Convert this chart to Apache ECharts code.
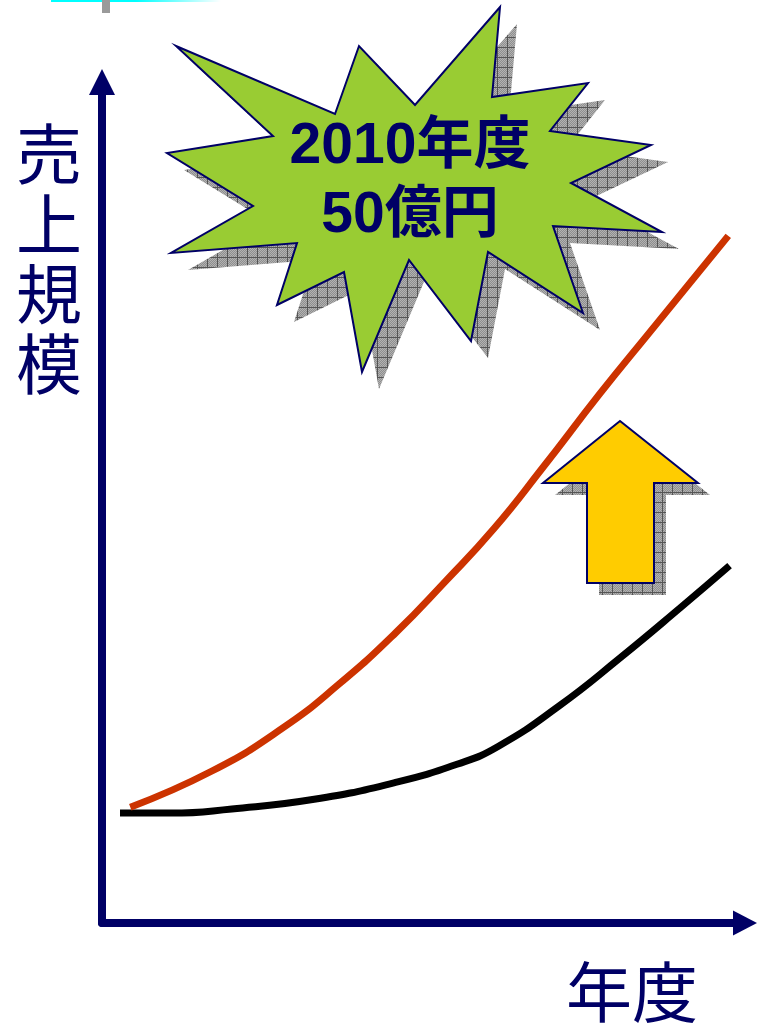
<!DOCTYPE html>
<html>
<head>
<meta charset="utf-8">
<script src="https://cdn.jsdelivr.net/npm/echarts@6/dist/echarts.min.js"></script>
<style>
  html, body { margin: 0; padding: 0; background: #ffffff; }
  #chart { width: 758px; height: 1026px; }
</style>
</head>
<body>
<div id="chart"></div>
<script>
// ---- data -------------------------------------------------------------
// position along the time axis (0 = origin, 100 = end of axis)
const planX      = [4.4, 17.1, 27.9, 36.8, 45.7, 53.3, 60.9, 68.5, 77.4, 85.2, 97.4];
// planned sales, 億円
const planSales  = [8.43, 11.06, 14.12, 17.36, 21.13, 24.81, 28.67, 33.11, 38.5, 43.0, 50.0];
// current trend
const trendX     = [2.8, 10.7, 20.2, 33.0, 45.4, 55.2, 61.6, 71.1, 80.6, 90.1, 97.6];
const trendSales = [8.0, 8.0, 8.3, 9.0, 10.2, 11.55, 12.85, 15.8, 19.3, 23.0, 26.0];

const targetYear  = '2010年度';
const targetSales = '50億円';
const yTitle = '売上規模';
const xTitle = '年度';

// ---- styling ----------------------------------------------------------
const NAVY = '#000066';
const CJK = '"Noto Sans CJK JP", "Noto Sans", sans-serif';

// outline of the burst callout (pixels)
const burstShape = [
  [176, 46], [335, 114], [359, 46], [415, 105], [500, 7], [492, 97],
  [588, 83], [550, 131], [651, 145], [571, 183], [662, 232], [553, 226],
  [583, 313], [488, 252], [471, 341], [409, 260], [362, 372], [344, 272],
  [277, 305], [297, 243], [171, 253], [253, 206], [167, 153], [273, 136]
];
// block arrow pointing up (pixels)
const arrowShape = [
  [620, 421], [698, 483], [654, 483], [654, 583],
  [587, 583], [587, 483], [543, 483]
];

// grey cross-hatched fill used for the drop shadows
function hatchPattern() {
  const c = document.createElement('canvas');
  c.width = 10; c.height = 10;
  const g = c.getContext('2d');
  for (let y = 0; y < 10; y++) {
    for (let x = 0; x < 10; x++) {
      g.fillStyle = ((x + y) % 2) ? '#8e8e8e' : '#b2b2b2';
      g.fillRect(x, y, 1, 1);
    }
  }
  g.fillStyle = '#555555';
  g.fillRect(0, 0, 10, 1);
  g.fillRect(0, 0, 1, 10);
  return { image: c, repeat: 'repeat' };
}
const hatch = hatchPattern();

const zip = (xs, ys) => xs.map((x, i) => [x, ys[i]]);

const chart = echarts.init(document.getElementById('chart'), null, { renderer: 'canvas' });

const hiddenParts = {
  axisTick: { show: false },
  axisLabel: { show: false },
  splitLine: { show: false }
};

chart.setOption({
  animation: false,
  backgroundColor: '#ffffff',
  grid: { left: 102, top: 82, right: 13, bottom: 103, containLabel: false },
  xAxis: Object.assign({
    type: 'value', min: 0, max: 100,
    axisLine: {
      show: true, onZero: false,
      symbol: ['none', 'triangle'], symbolSize: [25, 24],
      lineStyle: { color: NAVY, width: 8 }
    }
  }, hiddenParts),
  yAxis: Object.assign({
    type: 'value', min: 0, max: 61.2,
    axisLine: {
      show: true, onZero: false,
      symbol: ['none', 'triangle'], symbolSize: [26, 26],
      lineStyle: { color: NAVY, width: 8 }
    }
  }, hiddenParts),
  series: [
    {
      name: 'trend', type: 'line', data: zip(trendX, trendSales),
      smooth: 0.5, showSymbol: false, z: 3,
      lineStyle: { color: '#000000', width: 7, cap: 'butt' }
    },
    {
      name: 'plan', type: 'line', data: zip(planX, planSales),
      smooth: 0.5, showSymbol: false, z: 4,
      lineStyle: { color: '#CC3300', width: 7, cap: 'butt' }
    }
  ],
  graphic: [
    // remnant bar along the top edge
    {
      type: 'rect', z: 20, shape: { x: 51, y: 0, width: 170, height: 2 },
      style: {
        fill: new echarts.graphic.LinearGradient(0, 0, 1, 0, [
          { offset: 0, color: '#00ffff' },
          { offset: 0.5, color: '#00ffff' },
          { offset: 1, color: 'rgba(0,255,255,0)' }
        ])
      }
    },
    { type: 'rect', z: 21, shape: { x: 102, y: 0, width: 8, height: 13 }, style: { fill: '#9a9a9a' } },

    // burst callout with its shadow
    { type: 'polygon', z: 30, x: 17, y: 17, shape: { points: burstShape }, style: { fill: hatch } },
    {
      type: 'polygon', z: 31, shape: { points: burstShape },
      style: { fill: '#99CC33', stroke: NAVY, lineWidth: 2, lineJoin: 'miter' }
    },
    {
      type: 'text', z: 32, x: 410, y: 182,
      style: {
        text: targetYear + '\n' + targetSales,
        font: 'bold 57px "Liberation Sans", "Noto Sans CJK JP", sans-serif',
        lineHeight: 69, fill: NAVY, align: 'center', verticalAlign: 'middle'
      }
    },

    // block arrow with its shadow
    { type: 'polygon', z: 30, x: 12, y: 12, shape: { points: arrowShape }, style: { fill: hatch } },
    {
      type: 'polygon', z: 31, shape: { points: arrowShape },
      style: { fill: '#FFCC00', stroke: NAVY, lineWidth: 2, lineJoin: 'miter' }
    },

    // axis titles
    {
      type: 'text', z: 32, x: 49, y: 119,
      style: {
        text: yTitle.split('').join('\n'),
        font: '66px ' + CJK, lineHeight: 70, fill: NAVY,
        align: 'center', verticalAlign: 'top'
      }
    },
    {
      type: 'text', z: 32, x: 632, y: 992,
      style: {
        text: xTitle, font: '66px ' + CJK, fill: NAVY,
        align: 'center', verticalAlign: 'middle'
      }
    }
  ]
});
</script>
</body>
</html>
